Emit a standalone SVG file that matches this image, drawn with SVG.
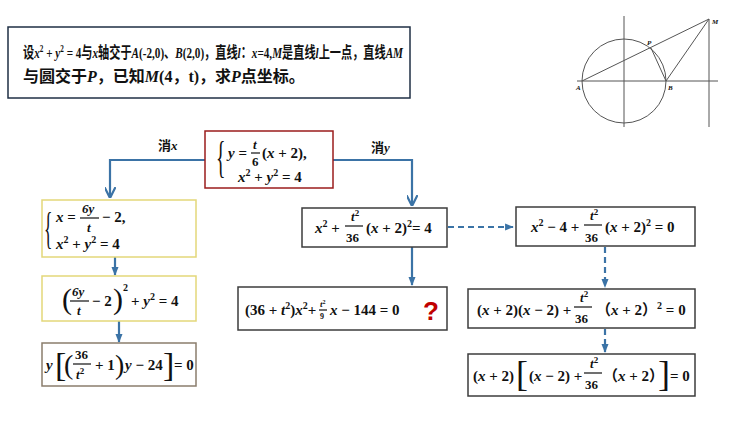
<svg xmlns="http://www.w3.org/2000/svg" width="729" height="423" viewBox="0 0 729 423">
<defs>
<style>
text{font-family:"Liberation Serif","Noto Sans CJK SC",serif;font-weight:bold;fill:#111}
.m{font-size:15px}
.i{font-style:italic}
.s{font-size:13px}
.t{font-size:16px}
.n{font-weight:normal}
.box{fill:#fff;stroke-width:1.5}
.c{stroke:#3b73a6;stroke-width:2.2;fill:none}
.d{stroke:#3b73a6;stroke-width:2.2;fill:none;stroke-dasharray:6,4}
.g{stroke:#555;stroke-width:1;fill:none}
.fl{stroke:#111;stroke-width:1.2}
</style>
<marker id="ar" viewBox="0 0 10 10" refX="9" refY="5" markerWidth="5" markerHeight="5" orient="auto"><path d="M0,0L10,5L0,10" fill="none" stroke="#3b73a6" stroke-width="2"/></marker>
<marker id="tr" viewBox="0 0 10 10" refX="9" refY="5" markerWidth="4" markerHeight="4" orient="auto"><path d="M0,1L10,5L0,9z" fill="#3b73a6"/></marker>
</defs>
<rect width="729" height="423" fill="#fff"/>

<g id="problem">
<rect class="box" x="8" y="27" width="402" height="71" stroke="#1f2f44" stroke-width="2"/>
<text x="23" y="58" font-size="15.5" textLength="380" lengthAdjust="spacingAndGlyphs">设<tspan class="i">x</tspan><tspan font-size="10" dy="-6">2</tspan><tspan dy="6"> + </tspan><tspan class="i">y</tspan><tspan font-size="10" dy="-6">2</tspan><tspan dy="6"> = 4与</tspan><tspan class="i">x</tspan>轴交于<tspan class="i">A</tspan>(-2,0)、<tspan class="i">B</tspan>(2,0)，直线<tspan class="i">l</tspan>：<tspan class="i">x</tspan>=4,<tspan class="i">M</tspan>是直线<tspan class="i">l</tspan>上一点，直线<tspan class="i">AM</tspan></text>
<text class="t" x="23" y="82">与圆交于<tspan class="i">P</tspan>，已知<tspan class="i">M</tspan>(4，t)，求<tspan class="i">P</tspan>点坐标。</text>
</g>

<g id="figure">
<line class="g" x1="624" y1="16" x2="624" y2="127"/>
<line class="g" x1="577" y1="81" x2="718" y2="81"/>
<circle class="g" cx="624" cy="81" r="42"/>
<line class="g" x1="709" y1="19" x2="709" y2="127" stroke-width="1.3"/>
<line class="g" x1="582" y1="81" x2="709" y2="19" stroke-width="1.2"/>
<line class="g" x1="651" y1="48" x2="666" y2="81" stroke-width="1.2"/>
<line class="g" x1="666" y1="81" x2="709" y2="19" stroke-width="1.2"/>
<text x="576" y="90" font-size="7" class="i">A</text>
<text x="668" y="90" font-size="7" class="i">B</text>
<text x="647" y="45" font-size="7" class="i">P</text>
<text x="712" y="24" font-size="7" class="i">M</text>
</g>

<g id="connectors">
<path class="c" d="M205,160H110V197" marker-end="url(#ar)"/>
<path class="c" d="M333,160H412V205" marker-end="url(#ar)"/>
<path class="c" d="M115,257V275" marker-end="url(#tr)"/>
<path class="c" d="M119,321V342" marker-end="url(#tr)"/>
<path class="c" d="M412,247V285" marker-end="url(#tr)"/>
<path class="d" d="M448,227H513" marker-end="url(#tr)"/>
<path class="d" d="M605,247V287" marker-end="url(#tr)"/>
<path class="d" d="M605,329V352" marker-end="url(#tr)"/>
<text class="s" x="158" y="150">消<tspan class="i">x</tspan></text>
<text class="s" x="371" y="152">消<tspan class="i">y</tspan></text>
</g>

<g id="center">
<rect class="box" x="205" y="131" width="128" height="57" stroke="#9b1c1c" stroke-width="2"/>
<text class="n" x="216" y="172" font-size="44" transform="translate(216,172) scale(0.45,1) translate(-216,-172)">{</text>
<text class="m" x="228" y="158"><tspan class="i">y</tspan> = </text>
<text class="s i" x="253" y="149">t</text><line class="fl" x1="251" y1="153" x2="260" y2="153"/><text class="s" x="252" y="166">6</text>
<text class="m" x="262" y="158">(<tspan class="i">x</tspan> + 2),</text>
<text class="m" x="238" y="182"><tspan class="i">x</tspan><tspan font-size="10" dy="-6">2</tspan><tspan dy="6"> + </tspan><tspan class="i">y</tspan><tspan font-size="10" dy="-6">2</tspan><tspan dy="6"> = 4</tspan></text>
</g>

<g id="left1">
<rect class="box" x="42" y="200" width="154" height="57" stroke="#e3d77a"/>
<text class="n" x="44" y="243" font-size="44" transform="translate(44,243) scale(0.4,1) translate(-44,-243)">{</text>
<text class="m" x="56" y="222"><tspan class="i">x</tspan> = </text>
<text class="s i" x="82" y="213">6y</text><line class="fl" x1="80" y1="218" x2="99" y2="218"/><text class="s i" x="87" y="232">t</text>
<text class="m" x="102" y="222">− 2,</text>
<text class="m" x="56" y="249"><tspan class="i">x</tspan><tspan font-size="10" dy="-6">2</tspan><tspan dy="6"> + </tspan><tspan class="i">y</tspan><tspan font-size="10" dy="-6">2</tspan><tspan dy="6"> = 4</tspan></text>
</g>

<g id="left2">
<rect class="box" x="42" y="276" width="154" height="45" stroke="#e3d77a"/>
<text class="n" x="62" y="309" font-size="30">(</text>
<text class="s i" x="72" y="296">6y</text><line class="fl" x1="70" y1="301" x2="89" y2="301"/><text class="s i" x="77" y="315">t</text>
<text class="m" x="92" y="306">− 2</text>
<text class="n" x="113" y="309" font-size="30">)</text>
<text x="123" y="291" font-size="10">2</text>
<text class="m" x="131" y="306">+ <tspan class="i">y</tspan><tspan font-size="10" dy="-6">2</tspan><tspan dy="6"> = 4</tspan></text>
</g>

<g id="left3">
<rect class="box" x="42" y="343" width="154" height="43" stroke="#8a7d6c"/>
<text class="m i" x="46" y="370">y</text>
<text class="n" x="55" y="376" font-size="34">[</text>
<text class="n" x="64" y="374" font-size="28">(</text>
<text class="s" x="75" y="359">36</text><line class="fl" x1="73" y1="364" x2="91" y2="364"/><text class="s i" x="76" y="379">t<tspan font-size="9" dy="-5" font-style="normal">2</tspan></text>
<text class="m" x="95" y="370">+ 1</text>
<text class="n" x="115" y="374" font-size="28">)</text>
<text class="m" x="125" y="370"><tspan class="i">y</tspan> − 24</text>
<text class="n" x="163" y="376" font-size="34">]</text>
<text class="m" x="174" y="370">= 0</text>
</g>

<g id="r1">
<rect class="box" x="302" y="208" width="145" height="39" stroke="#3c3c3c"/>
<text class="m" x="315" y="233"><tspan class="i">x</tspan><tspan font-size="10" dy="-6">2</tspan><tspan dy="6"> +</tspan></text>
<text class="s i" x="351" y="221">t<tspan font-size="9" dy="-5" font-style="normal">2</tspan></text><line class="fl" x1="345" y1="226" x2="363" y2="226"/><text class="s" x="346" y="242">36</text>
<text class="m" x="366" y="233">(<tspan class="i">x</tspan> + 2)<tspan font-size="10" dy="-6">2</tspan><tspan dy="6">= 4</tspan></text>
</g>

<g id="r2">
<rect class="box" x="238" y="287" width="209" height="43" stroke="#3c3c3c"/>
<text class="m" x="245" y="315">(36 + <tspan class="i">t</tspan><tspan font-size="10" dy="-6">2</tspan><tspan dy="6">)</tspan><tspan class="i">x</tspan><tspan font-size="10" dy="-6">2</tspan><tspan dy="6">+</tspan></text>
<text x="320" y="307" font-size="9" class="i">t<tspan font-size="6" dy="-3" font-style="normal">2</tspan></text><line class="fl" x1="319" y1="310" x2="327" y2="310" stroke-width="0.8"/><text x="320" y="319" font-size="8">9</text>
<text class="m" x="330" y="315"><tspan class="i">x</tspan> − 144 = 0</text>
<text x="423" y="320" font-size="26" style="fill:#c00000;font-family:'Liberation Sans',sans-serif">?</text>
</g>

<g id="rr1">
<rect class="box" x="516" y="207" width="179" height="39" stroke="#3c3c3c"/>
<text class="m" x="531" y="232"><tspan class="i">x</tspan><tspan font-size="10" dy="-6">2</tspan><tspan dy="6"> − 4 +</tspan></text>
<text class="s i" x="590" y="220">t<tspan font-size="9" dy="-5" font-style="normal">2</tspan></text><line class="fl" x1="584" y1="225" x2="602" y2="225"/><text class="s" x="585" y="242">36</text>
<text class="m" x="605" y="232">(<tspan class="i">x</tspan> + 2)<tspan font-size="10" dy="-6">2</tspan><tspan dy="6"> = 0</tspan></text>
</g>

<g id="rr2">
<rect class="box" x="468" y="289" width="227" height="39" stroke="#3c3c3c"/>
<text class="m" x="477" y="315">(<tspan class="i">x</tspan> + 2)(<tspan class="i">x</tspan> − 2) +</text>
<text class="s i" x="580" y="302">t<tspan font-size="9" dy="-5" font-style="normal">2</tspan></text><line class="fl" x1="574" y1="307" x2="592" y2="307"/><text class="s" x="575" y="323">36</text>
<text class="m" x="596" y="315">（<tspan class="i">x</tspan> + 2）<tspan font-size="10" dy="-6">2</tspan><tspan dy="6"> = 0</tspan></text>
</g>

<g id="rr3">
<rect class="box" x="468" y="354" width="227" height="42" stroke="#3c3c3c"/>
<text class="m" x="473" y="381">(<tspan class="i">x</tspan> + 2)</text>
<text class="n" x="516" y="386" font-size="36">[</text>
<text class="m" x="529" y="381">(<tspan class="i">x</tspan> − 2) +</text>
<text class="s i" x="590" y="368">t<tspan font-size="9" dy="-5" font-style="normal">2</tspan></text><line class="fl" x1="584" y1="373" x2="602" y2="373"/><text class="s" x="585" y="389">36</text>
<text class="m" x="603" y="381">（<tspan class="i">x</tspan> + 2）</text>
<text class="n" x="658" y="386" font-size="36">]</text>
<text class="m" x="670" y="381">= 0</text>
</g>
</svg>
